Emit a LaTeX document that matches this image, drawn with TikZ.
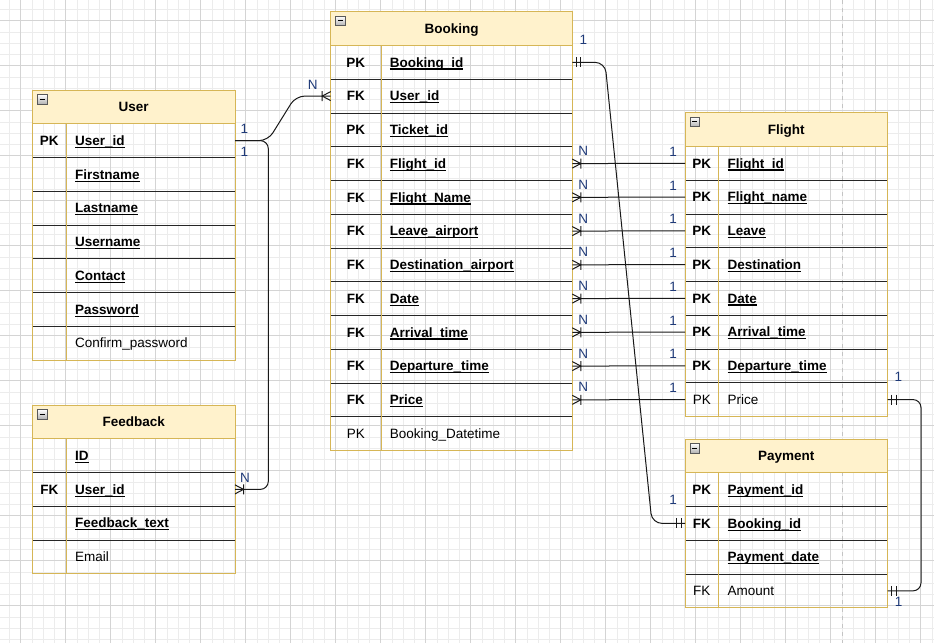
\documentclass[tikz,border=0pt]{standalone}
\usepackage{fontspec}
\setmainfont{Liberation Sans}
\usetikzlibrary{calc}
\definecolor{hdrfill}{HTML}{FFF2CC}
\definecolor{gold}{HTML}{D6B656}
\definecolor{gridmaj}{HTML}{D4D4D4}
\definecolor{gridmin}{HTML}{ECECEC}
\definecolor{lbl}{HTML}{1F3A78}
\definecolor{dashcol}{HTML}{C4C4C4}
\newcommand\myul[1]{\setbox0=\hbox{#1}\rlap{\rule[-2.4pt]{\wd0}{1.1pt}}\box0}
\newcommand\ulb[1]{\myul{#1}}
\newcommand\uln[1]{#1}
\tikzset{
  every node/.style={font=\fontsize{13.5}{16}\selectfont, inner sep=0pt},
  rowbox/.style={rectangle, minimum height=33.75pt, inner sep=0pt, outer sep=0pt},
  keyb/.style={anchor=base, font=\fontsize{13.5}{16}\selectfont\bfseries},
  keyn/.style={anchor=base},
  fldb/.style={anchor=base west, font=\fontsize{13.5}{16}\selectfont\bfseries},
  fldn/.style={anchor=base west},
  tabtitle/.style={anchor=base, font=\fontsize{13.5}{16}\selectfont\bfseries},
  rowsep/.style={draw=black!85, line width=0.9pt},
  goldline/.style={draw=gold, line width=1pt},
  conn/.style={draw=black!90, line width=1pt},
  lab/.style={text=lbl},
  gmin/.style={draw=gridmin, line width=0.9pt},
  gmaj/.style={draw=gridmaj, line width=0.9pt},
}
% #1 id #2 x #3 y #4 w #5 keyw #6 nrows #7 title #8 rows
\newcommand\ertable[8]{%
  \fill[hdrfill] (#2,#3) rectangle ({#2+#4},{#3+33.75});
  \node[tabtitle] (#1-t) at ({#2+#4/2},{#3+16.875+4.85}) {#7};
  \node[rectangle, minimum width=#4pt, minimum height=33.75pt, anchor=north west] (#1) at (#2,#3) {};
  \draw[draw=gray!70!black, top color=white, bottom color=gray!60, line width=0.6pt] ({#2+5},{#3+4.5}) rectangle ++(9.5,9.5);
  \draw[line width=1pt] ({#2+7.3},{#3+9.25}) -- ++(5,0);
  \foreach \s/\k/\f [count=\i from 0] in {#8} {
    \node[rowbox, minimum width=#4pt, anchor=north west] (#1-\i) at (#2,{#3+33.75*(\i+1)}) {};
    \node[key\s] (#1-\i-k) at ({#2+#5/2},{#3+33.75*(\i+1)+16.875+4.85}) {\k};
    \node[fld\s] (#1-\i-f) at ({#2+#5+8.7},{#3+33.75*(\i+1)+16.875+4.85}) {\csname ul\s\endcsname{\f}};
    \ifnum\i>0 \draw[rowsep] (#1-\i.north west) -- (#1-\i.north east);\fi
  }
  \draw[goldline] ({#2+#5},{#3+33.75}) -- ({#2+#5},{#3+33.75*(#6+1)});
  \draw[goldline] (#2,#3) rectangle ({#2+#4},{#3+33.75*(#6+1)});
  \draw[goldline] (#2,{#3+33.75}) -- ({#2+#4},{#3+33.75});
}
\newcommand\crowR[1]{\draw[conn] ($(#1)+(0,-4.5)$) -- ($(#1)+(8.5,0)$) -- ($(#1)+(0,4.5)$) ($(#1)+(8.5,-5)$) -- ($(#1)+(8.5,5)$);}
\newcommand\crowL[1]{\draw[conn] ($(#1)+(0,-4.5)$) -- ($(#1)+(-8.5,0)$) -- ($(#1)+(0,4.5)$) ($(#1)+(-8.5,-5)$) -- ($(#1)+(-8.5,5)$);}
\newcommand\oneR[1]{\draw[conn] ($(#1)+(4,-5)$) -- ($(#1)+(4,5)$) ($(#1)+(8.5,-5)$) -- ($(#1)+(8.5,5)$);}
\newcommand\oneL[1]{\draw[conn] ($(#1)+(-4,-5)$) -- ($(#1)+(-4,5)$) ($(#1)+(-8.5,-5)$) -- ($(#1)+(-8.5,5)$);}
\begin{document}
\begin{tikzpicture}[x=1pt,y=-1pt]
\useasboundingbox (0,0) rectangle (934,643);
\fill[white] (0,0) rectangle (934,643);
% grid
\foreach \k in {0,...,82} \draw[gmin] ({9.45+11.25*\k},0) -- ({9.45+11.25*\k},643);
\foreach \k in {0,...,56} \draw[gmin] (0,{9.45+11.25*\k}) -- (934,{9.45+11.25*\k});
\foreach \k in {0,...,20} \draw[gmaj] ({20.7+45*\k},0) -- ({20.7+45*\k},643);
\foreach \k in {0,...,13} \draw[gmaj] (0,{20.7+45*\k}) -- (934,{20.7+45*\k});
\draw[draw=dashcol, line width=1pt, dash pattern=on 4pt off 4pt] (842.7,0) -- (842.7,643);
% tables
\ertable{U}{32.3}{90}{202.7}{34}{7}{User}{b/PK/User\_id, b/{}/Firstname, b/{}/Lastname, b/{}/Username, b/{}/Contact, b/{}/Password, n/{}/Confirm\_password}
\ertable{Fb}{32.3}{405}{202.7}{34}{4}{Feedback}{b/{}/ID, b/FK/User\_id, b/{}/Feedback\_text, n/{}/Email}
\ertable{B}{330.7}{11.7}{241.6}{50.3}{12}{Booking}{b/PK/Booking\_id, b/FK/User\_id, b/PK/Ticket\_id, b/FK/Flight\_id, b/FK/Flight\_Name, b/FK/Leave\_airport, b/FK/Destination\_airport, b/FK/Date, b/FK/Arrival\_time, b/FK/Departure\_time, b/FK/Price, n/PK/Booking\_Datetime}
\ertable{F}{685}{112.7}{202.7}{33.7}{8}{Flight}{b/PK/Flight\_id, b/PK/Flight\_name, b/PK/Leave, b/PK/Destination, b/PK/Date, b/PK/Arrival\_time, b/PK/Departure\_time, n/PK/Price}
\ertable{P}{685}{439}{202.7}{33.6}{4}{Payment}{b/PK/Payment\_id, b/FK/Booking\_id, b/{}/Payment\_date, n/FK/Amount}
% connectors User
\draw[conn, rounded corners=9pt] (U-0.east) -- ($(U-0.east)+(33,0)$) -- ($(B-1.west)+(-35,0)$) -- (B-1.west);
\crowL{B-1.west}
\draw[conn, rounded corners=8pt] (U-0.east) -- ($(U-0.east)+(33.3,0)$) -- ($(Fb-1.east)+(33.3,0)$) -- (Fb-1.east);
\crowR{Fb-1.east}
\node[lab] (lu1) at ($(U-0.east)+(9.5,-11.6)$) {1};
\node[lab] (lu2) at ($(U-0.east)+(9.5,11)$) {1};
\node[lab] (lfb) at ($(Fb-1.east)+(10,-11.5)$) {N};
\node[lab] (lbu) at ($(B-1.west)+(-18,-11)$) {N};
% Booking -> Payment
\draw[conn, rounded corners=10pt] (B-0.east) -- ($(B-0.east)+(32.7,0)$) -- ($(P-1.west)+(-33,0)$) -- (P-1.west);
\oneR{B-0.east}
\oneL{P-1.west}
\node[lab] (lbp1) at ($(B-0.east)+(11,-22.5)$) {1};
\node[lab] (lbp2) at ($(P-1.west)+(-12,-23.5)$) {1};
% Flight price -> Payment amount
\draw[conn, rounded corners=8pt] (F-7.east) -- ($(F-7.east)+(33.3,0)$) -- ($(P-3.east)+(33.3,0)$) -- (P-3.east);
\oneR{F-7.east}
\oneR{P-3.east}
\node[lab] (lfp1) at ($(F-7.east)+(10.6,-23)$) {1};
\node[lab] (lfp2) at ($(P-3.east)+(11,11)$) {1};
% Booking -> Flight
\foreach \i [evaluate=\i as \j using int(\i-3)] in {3,...,10} {
  \draw[conn] (B-\i.east) -- (F-\j.west);
  \crowR{B-\i.east}
  \node[lab] (ln\i) at ($(B-\i.east)+(11,-12.5)$) {N};
  \node[lab] (lo\i) at ($(F-\j.west)+(-12,-11.5)$) {1};
}
\end{tikzpicture}
\end{document}
